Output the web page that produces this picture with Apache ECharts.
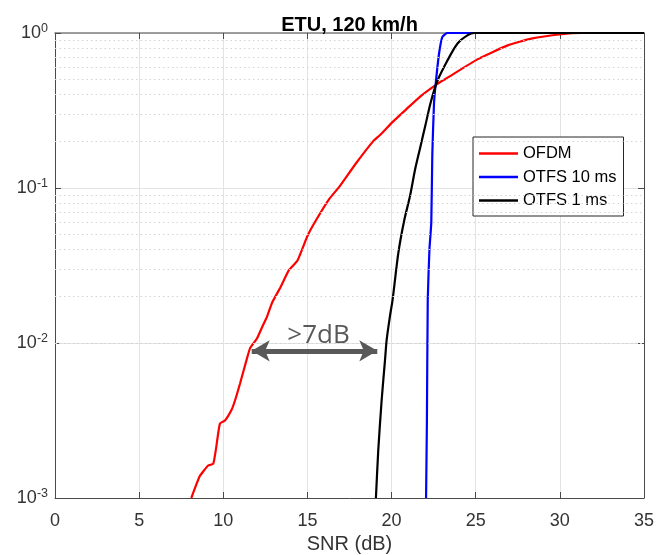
<!DOCTYPE html>
<html>
<head>
<meta charset="utf-8">
<script src="https://cdn.jsdelivr.net/npm/echarts@6/dist/echarts.min.js"></script>
<style>html,body{margin:0;padding:0;background:#fff;}#c{width:658px;height:555px;}</style>
</head>
<body>
<div id="c"></div>
<script>
// SNR (dB) and probability values
const ofdmSnr = [8.1, 8.6, 9.1, 9.4, 9.57, 9.8, 10.1, 10.5, 10.7, 11.0, 11.4, 11.6, 12.0, 12.3, 12.6, 12.9, 13.4, 13.9, 14.4, 15.0, 15.5, 16.3, 16.9, 17.9, 18.9, 19.3, 20.1, 20.9, 21.7, 22.7, 23.3, 25.1, 26.9, 28.3, 30.1, 31.3, 35];
const ofdmVal = [0.0010, 0.00138, 0.00162, 0.00166, 0.00209, 0.00302, 0.00316, 0.00372, 0.00427, 0.0055, 0.0079, 0.0093, 0.0107, 0.0126, 0.0148, 0.0182, 0.0229, 0.0295, 0.0339, 0.049, 0.0617, 0.0851, 0.102, 0.145, 0.20, 0.219, 0.269, 0.324, 0.389, 0.468, 0.513, 0.676, 0.832, 0.92, 0.982, 1.0, 1.0];

const otfs10Snr = [22.05, 22.1, 22.15, 22.25, 22.36, 22.42, 22.52, 22.62, 22.82, 23.02, 23.32, 35];
const otfs10Val = [0.001, 0.00316, 0.019, 0.04, 0.06, 0.163, 0.348, 0.468, 0.735, 0.944, 1.0, 1.0];

const otfs1Snr = [19.07, 19.21, 19.41, 19.61, 19.71, 19.9, 20.06, 20.4, 20.75, 21.1, 21.4, 21.7, 22.0, 22.32, 22.72, 23.32, 23.92, 24.53, 24.93, 35];
const otfs1Val = [0.001, 0.00204, 0.00427, 0.00776, 0.0105, 0.0148, 0.019, 0.038, 0.0617, 0.0891, 0.132, 0.182, 0.251, 0.355, 0.49, 0.665, 0.855, 0.968, 1.0, 1.0];

const xTicks = [0, 5, 10, 15, 20, 25, 30, 35];
const yDecades = [0.001, 0.01, 0.1, 1];
const minorGrid = [];
[0.001, 0.01, 0.1].forEach(d => { for (let k = 2; k <= 9; k++) minorGrid.push(+(k * d).toPrecision(3)); });

// annotation: gap arrow between OFDM and OTFS 1 ms
const gapLabel = '>7dB';
const gapStart = [11.69, 0.0089];
const gapEnd = [19.15, 0.0089];

const pair = (xs, ys) => xs.map((x, i) => [x, ys[i]]);
const axisColor = '#4a4a4a';
const font = "'Liberation Sans', Arial, Helvetica, sans-serif";

const chart = echarts.init(document.getElementById('c'), null, {renderer: 'canvas'});
chart.setOption({
  animation: false,
  backgroundColor: '#fff',
  title: {
    text: 'ETU, 120 km/h', left: 349.5, textAlign: 'center', top: 15, padding: 0,
    textStyle: {fontFamily: font, fontSize: 20, fontWeight: 'bold', color: '#000'}
  },
  grid: {left: 55, right: 14, top: 33, bottom: 57, containLabel: false, outerBoundsMode: 'none'},
  legend: {
    orient: 'vertical', left: 473, top: 137, padding: [8, 7, 7, 6],
    itemWidth: 39, itemHeight: 2.5, itemGap: 6.5, icon: 'rect',
    backgroundColor: '#fff', borderColor: '#262626', borderWidth: 1,
    textStyle: {fontFamily: font, fontSize: 16.5, color: '#000'},
    data: ['OFDM', 'OTFS 10 ms', 'OTFS 1 ms']
  },
  xAxis: [{
    type: 'value', min: 0, max: 35, interval: 5,
    name: 'SNR (dB)', nameLocation: 'middle', nameGap: 35,
    nameTextStyle: {fontFamily: font, fontSize: 20, color: '#333'},
    axisLine: {show: true, onZero: false, lineStyle: {color: axisColor, width: 1}},
    axisTick: {show: true, inside: true, length: 6, lineStyle: {color: axisColor}},
    axisLabel: {margin: 14, fontFamily: font, fontSize: 18, color: '#333'},
    splitLine: {show: true, lineStyle: {color: '#e3e3e3', width: 1}}
  }, {
    type: 'value', min: 0, max: 35, interval: 5, position: 'top',
    axisLine: {show: true, onZero: false, lineStyle: {color: '#808080', width: 1.5}},
    axisTick: {show: true, inside: true, length: 6, lineStyle: {color: axisColor}},
    axisLabel: {show: false}, splitLine: {show: false}
  }],
  yAxis: [{
    type: 'log', logBase: 10, min: 0.001, max: 1,
    axisLine: {show: true, onZero: false, lineStyle: {color: axisColor, width: 1}},
    axisTick: {show: true, inside: true, length: 6, lineStyle: {color: axisColor}},
    axisLabel: {
      margin: 7, fontFamily: font, color: '#333',
      formatter: v => '{b|10}{s|' + Math.round(Math.log10(v)) + '}',
      rich: {
        b: {fontFamily: font, fontSize: 18, color: '#333'},
        s: {fontFamily: font, fontSize: 12.5, color: '#333', padding: [0, 0, 9, 0]}
      }
    },
    splitLine: {show: true, lineStyle: {color: '#e3e3e3', width: 1}}
  }, {
    type: 'log', logBase: 10, min: 0.001, max: 1, position: 'right',
    axisLine: {show: true, onZero: false, lineStyle: {color: axisColor, width: 1}},
    axisTick: {show: true, inside: true, length: 6, lineStyle: {color: axisColor}},
    axisLabel: {show: false}, splitLine: {show: false}
  }],
  series: [
    {
      name: 'minor-grid', type: 'line', data: [], silent: true, z: 1,
      markLine: {
        silent: true, symbol: ['none', 'none'], animation: false,
        label: {show: false},
        lineStyle: {type: [1.5, 3], color: '#d4d4d4', width: 1},
        emphasis: {disabled: true},
        data: minorGrid.map(v => ({yAxis: v}))
      }
    },
    {
      name: 'OFDM', type: 'line', data: pair(ofdmSnr, ofdmVal), showSymbol: false, symbol: 'none',
      smooth: 0.15, z: 3, lineStyle: {color: '#ff0000', width: 2.2}, itemStyle: {color: '#ff0000'},
      markLine: {
        silent: true, animation: false, symbol: ['arrow', 'arrow'], symbolSize: [16, 18],
        lineStyle: {color: '#595959', width: 5, type: 'solid'},
        itemStyle: {color: '#595959'},
        emphasis: {disabled: true},
        label: {
          show: true, position: 'insideMiddleTop', distance: 2, offset: [4, 0], formatter: gapLabel,
          fontFamily: "'Open Sans', 'DejaVu Sans', sans-serif", fontSize: 26, color: '#595959'
        },
        data: [[{coord: gapStart}, {coord: gapEnd}]]
      }
    },
    {
      name: 'OTFS 10 ms', type: 'line', data: pair(otfs10Snr, otfs10Val), showSymbol: false, symbol: 'none',
      smooth: 0.15, z: 3, lineStyle: {color: '#0000ff', width: 2.2}, itemStyle: {color: '#0000ff'}
    },
    {
      name: 'OTFS 1 ms', type: 'line', data: pair(otfs1Snr, otfs1Val), showSymbol: false, symbol: 'none',
      smooth: 0.25, z: 3, lineStyle: {color: '#000000', width: 2.2}, itemStyle: {color: '#000000'}
    }
  ]
});
</script>
</body>
</html>
